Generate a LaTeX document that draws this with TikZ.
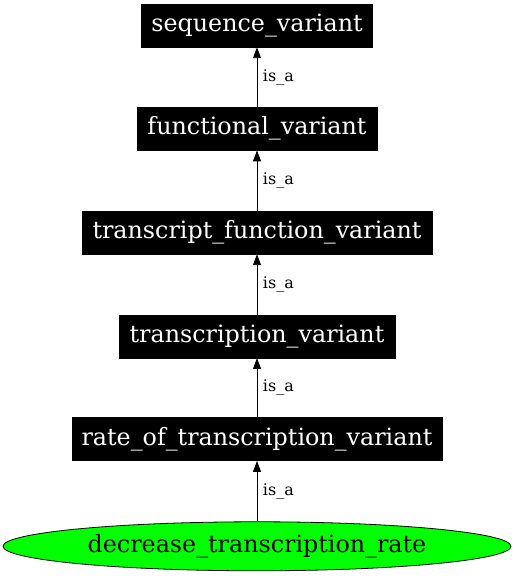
\documentclass[tikz,border=0pt]{standalone}
\usepackage{fontspec}
\setmainfont{DejaVu Serif}
\usetikzlibrary{arrows.meta,shapes.geometric}
\begin{document}
\begin{tikzpicture}[x=1pt,y=1pt,
  termbox/.style={draw=black,fill=black,text=white,inner sep=0pt,minimum height=43pt,
    font=\fontsize{23.8}{28}\selectfont},
  leafnode/.style={ellipse,draw=black,line width=0.8pt,fill=green,inner sep=0pt,
    minimum width=508pt,minimum height=49pt,font=\fontsize{23.8}{28}\selectfont},
  isa/.style={draw=black,line width=0.9pt,-{Triangle[length=11pt,width=8pt]}},
  isalabel/.style={anchor=west,inner sep=0pt,xshift=5.5pt,font=\fontsize{16}{19}\selectfont}
]
\useasboundingbox (0,0) rectangle (515,576);
\node[termbox,minimum width=231pt] (sv) at (257,550.5) {sequence\_variant};
\node[termbox,minimum width=240pt] (fv) at (257,447.3) {functional\_variant};
\node[termbox,minimum width=350pt] (tfv) at (257,343.5) {transcript\_function\_variant};
\node[termbox,minimum width=276pt] (tv) at (257,239.7) {transcription\_variant};
\node[termbox,minimum width=370pt] (rtv) at (257,136.8) {rate\_of\_transcription\_variant};
\node[leafnode] (dtr) at (257,29.7) {decrease\_transcription\_rate};
\draw[isa] (fv.north) -- node[isalabel] {is\_a} (sv.south);
\draw[isa] (tfv.north) -- node[isalabel] {is\_a} (fv.south);
\draw[isa] (tv.north) -- node[isalabel] {is\_a} (tfv.south);
\draw[isa] (rtv.north) -- node[isalabel] {is\_a} (tv.south);
\draw[isa] (dtr.north) -- node[isalabel] {is\_a} (rtv.south);
\end{tikzpicture}
\end{document}
